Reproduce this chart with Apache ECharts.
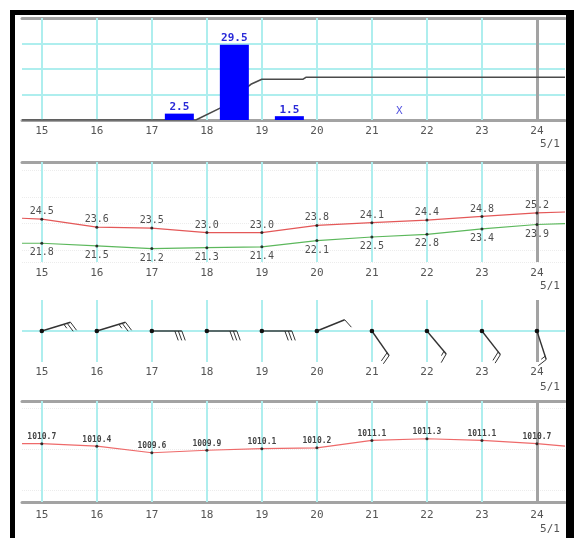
<!DOCTYPE html>
<html><head><meta charset="utf-8">
<script src="https://cdn.jsdelivr.net/npm/echarts@6/dist/echarts.min.js"></script>
<style>html,body{margin:0;padding:0;background:#fff}#c{width:574px;height:538px}</style>
</head><body><div id="c"></div>
<script>
// ---- data ----
const days = [15, 16, 17, 18, 19, 20, 21, 22, 23, 24];
const dayLabels = ['15', '16', '17', '18', '19', '20', '21', '22', '23', '24'];
const monthLabel = '5/1';
const xRange = [14.64, 24.51];

const rainDays = [17.5, 18.5, 19.5];
const rainValues = [2.5, 29.5, 1.5];
const missingDays = [21.5];
const missingMark = 'X';
const cumDays = [14.64, 17.8, 18.25, 18.8, 19.0, 19.75, 19.8, 24.51];
const cumValues = [0, 0, 9.5, 28, 32, 32, 33.5, 33.5];

const tempHigh = [24.5, 23.6, 23.5, 23.0, 23.0, 23.8, 24.1, 24.4, 24.8, 25.2];
const tempLow = [21.8, 21.5, 21.2, 21.3, 21.4, 22.1, 22.5, 22.8, 23.4, 23.9];
const tempHighEdges = [24.6, 25.3];
const tempLowEdges = [21.8, 24.0];

const windDir = [73, 73, 90, 90, 90, 68, 145, 140, 142, 162];
const windSpeed = [25, 25, 30, 30, 30, 10, 20, 15, 20, 15];

const pressure = [1010.7, 1010.4, 1009.6, 1009.9, 1010.1, 1010.2, 1011.1, 1011.3, 1011.1, 1010.7];
const pressureEdges = [1010.7, 1010.4];

// ---- helpers ----
const CYAN = '#aeeeee', GRAY = '#a3a3a3';
const pairs = (xs, ys) => xs.map((x, i) => [x, ys[i]]);
const withEdges = (vals, edges) => [[xRange[0], edges[0]]].concat(pairs(days, vals), [[xRange[1], edges[1]]]);
const vLines = days.map(d => ({ xAxis: d, lineStyle: { color: d === 24 ? GRAY : CYAN, width: d === 24 ? 3 : 2, type: 'solid' } }));
const gridMark = { silent: true, symbol: 'none', z: 1, label: { show: false }, data: vLines };
const labelFont = { fontFamily: 'DejaVu Sans Mono', fontSize: 11, color: '#555', lineHeight: 12 };

const grids = [
  { left: 22, width: 543, top: 18, height: 102 },
  { left: 22, width: 543, top: 162, height: 100 },
  { left: 22, width: 543, top: 300, height: 62 },
  { left: 22, width: 543, top: 401, height: 101 }
];
const margins = [[5, 18], [5, 18], [4, 19], [7, 21]];
const bottomLine = [true, false, false, true];
const topLine = [true, true, false, true];

const xAxes = [];
grids.forEach((g, i) => {
  xAxes.push({
    type: 'value', gridIndex: i, min: xRange[0], max: xRange[1], position: 'bottom',
    axisLine: { show: bottomLine[i], onZero: false, lineStyle: { color: GRAY, width: 3 } },
    axisTick: { show: false }, splitLine: { show: false },
    axisLabel: Object.assign({ customValues: days, margin: margins[i][0], formatter: v => dayLabels[days.indexOf(Math.round(v))] || '' }, labelFont)
  });
  xAxes.push({
    type: 'value', gridIndex: i, min: xRange[0], max: xRange[1], position: 'bottom',
    axisLine: { show: false }, axisTick: { show: false }, splitLine: { show: false },
    axisLabel: Object.assign({ customValues: [days[days.length - 1]], margin: margins[i][1], padding: [0, 0, 0, 26], formatter: () => monthLabel }, labelFont)
  });
  xAxes.push({
    type: 'value', gridIndex: i, min: xRange[0], max: xRange[1], position: 'top',
    axisLine: { show: topLine[i], onZero: false, lineStyle: { color: GRAY, width: 3 } },
    axisTick: { show: false }, splitLine: { show: false }, axisLabel: { show: false }
  });
});

const hidden = { axisLine: { show: false }, axisTick: { show: false }, axisLabel: { show: false } };
const yAxes = [
  Object.assign({ type: 'value', gridIndex: 0, min: 0, max: 40, interval: 10, splitLine: { show: true, lineStyle: { color: CYAN, width: 2 } } }, hidden),
  Object.assign({ type: 'value', gridIndex: 0, min: 0, max: 80, splitLine: { show: false } }, hidden),
  Object.assign({ type: 'value', gridIndex: 1, min: 19.7, max: 30.9, splitNumber: 3, splitLine: { show: true, lineStyle: { color: '#ececec', type: 'dotted' } } }, hidden),
  Object.assign({ type: 'value', gridIndex: 2, min: -1, max: 1, splitLine: { show: false } }, hidden),
  Object.assign({ type: 'value', gridIndex: 3, min: 1003.6, max: 1015.9, splitNumber: 3, splitLine: { show: true, lineStyle: { color: '#ececec', type: 'dotted' } } }, hidden)
];

function renderWind(params, api) {
  const p = api.coord([api.value(0), 0]);
  const dir = api.value(1) * Math.PI / 180;
  const spd = api.value(2);
  const ux = Math.sin(dir), uy = -Math.cos(dir);
  const L = 30;
  const ink = '#333';
  const children = [
    { type: 'line', shape: { x1: p[0], y1: p[1], x2: p[0] + ux * L, y2: p[1] + uy * L }, style: { stroke: ink, lineWidth: 1.4 } },
    { type: 'circle', shape: { cx: p[0], cy: p[1], r: 2.3 }, style: { fill: '#111' } }
  ];
  const rot = 70 * Math.PI / 180;
  const bx = ux * Math.cos(rot) - uy * Math.sin(rot);
  const by = ux * Math.sin(rot) + uy * Math.cos(rot);
  let pos = L;
  const n10 = Math.floor(spd / 10), n5 = (spd % 10) >= 5 ? 1 : 0;
  for (let i = 0; i < n10 + n5; i++) {
    const len = i < n10 ? 10 : 5;
    const sx = p[0] + ux * pos, sy = p[1] + uy * pos;
    children.push({ type: 'line', shape: { x1: sx, y1: sy, x2: sx + bx * len, y2: sy + by * len }, style: { stroke: ink, lineWidth: 1 } });
    pos -= 3.5;
  }
  return { type: 'group', children };
}

const option = {
  backgroundColor: '#fff',
  animation: false,
  grid: grids,
  xAxis: xAxes,
  yAxis: yAxes,
  graphic: [
    { type: 'rect', shape: { x: 10, y: 10, width: 5, height: 528 }, style: { fill: '#000' }, z: 100 },
    { type: 'rect', shape: { x: 10, y: 10, width: 564, height: 5 }, style: { fill: '#000' }, z: 100 },
    { type: 'rect', shape: { x: 566, y: 10, width: 8, height: 528 }, style: { fill: '#000' }, z: 100 }
  ],
  series: [
    { type: 'line', xAxisIndex: 0, yAxisIndex: 1, data: pairs(cumDays, cumValues), showSymbol: false, z: 2,
      lineStyle: { color: '#4a4a4a', width: 1.6 }, markLine: gridMark },
    { type: 'bar', xAxisIndex: 0, yAxisIndex: 0, data: pairs(rainDays, rainValues), barWidth: 29, z: 3,
      itemStyle: { color: '#0000ff' },
      label: { show: true, position: 'top', distance: 1, color: '#2a2ad8', fontFamily: 'DejaVu Sans Mono', fontSize: 11, fontWeight: 'bold', textBorderColor: '#fff', textBorderWidth: 1,
        formatter: p => p.value[1].toFixed(1) } },
    { type: 'scatter', xAxisIndex: 0, yAxisIndex: 0, data: missingDays.map(d => [d, 0]), symbolSize: 1, itemStyle: { color: 'rgba(0,0,0,0)' }, z: 3,
      label: { show: true, position: 'top', distance: 3, color: '#2a2ad8', fontFamily: 'DejaVu Sans Mono', fontSize: 11, formatter: () => missingMark } },

    { type: 'line', xAxisIndex: 3, yAxisIndex: 2, data: withEdges(tempHigh, tempHighEdges), showSymbol: false, z: 2,
      lineStyle: { color: '#e45858', width: 1.2 }, markLine: gridMark },
    { type: 'line', xAxisIndex: 3, yAxisIndex: 2, data: withEdges(tempLow, tempLowEdges), showSymbol: false, z: 2,
      lineStyle: { color: '#5cb85c', width: 1.2 } },
    { type: 'scatter', xAxisIndex: 3, yAxisIndex: 2, data: pairs(days, tempHigh), symbolSize: 3, itemStyle: { color: '#111' }, z: 3,
      label: { show: true, position: 'top', distance: 1, color: '#222', fontFamily: 'DejaVu Sans Mono', fontSize: 10, formatter: p => p.value[1].toFixed(1) } },
    { type: 'scatter', xAxisIndex: 3, yAxisIndex: 2, data: pairs(days, tempLow), symbolSize: 3, itemStyle: { color: '#111' }, z: 3,
      label: { show: true, position: 'bottom', distance: 3, color: '#222', fontFamily: 'DejaVu Sans Mono', fontSize: 10, formatter: p => p.value[1].toFixed(1) } },

    { type: 'custom', xAxisIndex: 6, yAxisIndex: 3, renderItem: renderWind, z: 3,
      data: days.map((d, i) => [d, windDir[i], windSpeed[i]]),
      markLine: { silent: true, symbol: 'none', z: 1, label: { show: false },
        data: vLines.concat([{ yAxis: 0, lineStyle: { color: CYAN, width: 2, type: 'solid' } }]) } },

    { type: 'line', xAxisIndex: 9, yAxisIndex: 4, data: withEdges(pressure, pressureEdges), showSymbol: false, z: 2,
      lineStyle: { color: '#ee6a6a', width: 1.2 }, markLine: gridMark },
    { type: 'scatter', xAxisIndex: 9, yAxisIndex: 4, data: pairs(days, pressure), symbolSize: 3, itemStyle: { color: '#111' }, z: 3,
      label: { show: true, position: 'top', distance: 1, color: '#111', fontFamily: 'DejaVu Sans Mono', fontSize: 8, fontWeight: 'bold', formatter: p => p.value[1].toFixed(1) } }
  ]
};
const chart = echarts.init(document.getElementById('c'), null, { renderer: 'canvas' });
chart.setOption(option);
</script></body></html>
